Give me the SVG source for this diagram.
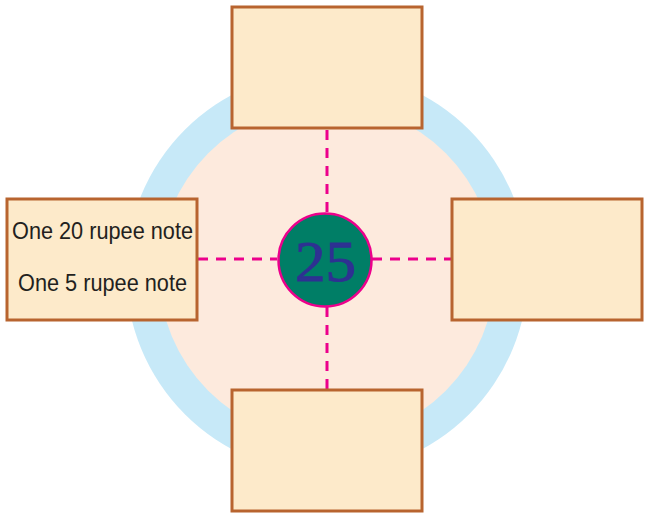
<svg xmlns="http://www.w3.org/2000/svg" width="645" height="514" viewBox="0 0 645 514">
<style>
.box{fill:#fdeaca;stroke:#b8642f;stroke-width:3}
.dash{stroke:#ec008c;stroke-width:3;stroke-dasharray:10 8;fill:none}
.lbl{font-family:"Liberation Sans",Arial,sans-serif;font-size:24px;fill:#231f20}
</style>
<rect width="645" height="514" fill="#ffffff"/>
<g id="ring">
<circle cx="327" cy="272" r="201" fill="#c7e9f8"/>
<circle cx="327" cy="272" r="168" fill="#fdeadd"/>
</g>
<g id="connectors">
<line class="dash" x1="327" y1="130" x2="327" y2="212"/>
<line class="dash" x1="327" y1="307" x2="327" y2="390"/>
<line class="dash" x1="198" y1="259" x2="277" y2="259"/>
<line class="dash" x1="372" y1="259" x2="451" y2="259"/>
</g>
<g id="node-top"><rect class="box" x="232" y="7" width="190" height="121"/></g>
<g id="node-bottom"><rect class="box" x="232" y="390" width="190" height="121"/></g>
<g id="node-right"><rect class="box" x="452" y="199" width="190" height="121"/></g>
<g id="node-left"><rect class="box" x="7" y="199" width="190" height="121"/>
<text class="lbl" x="12" y="239" textLength="181" lengthAdjust="spacingAndGlyphs">One 20 rupee note</text>
<text class="lbl" x="18" y="291" textLength="169" lengthAdjust="spacingAndGlyphs">One 5 rupee note</text>
</g>
<g id="node-center">
<circle cx="325" cy="260" r="46.5" fill="#007e66" stroke="#ec008c" stroke-width="2.5"/>
<text x="295" y="281" textLength="61" lengthAdjust="spacingAndGlyphs" font-family="Liberation Serif,'Times New Roman',serif" font-size="56" fill="#2e3192" stroke="#2e3192" stroke-width="1">25</text>
</g>
</svg>
